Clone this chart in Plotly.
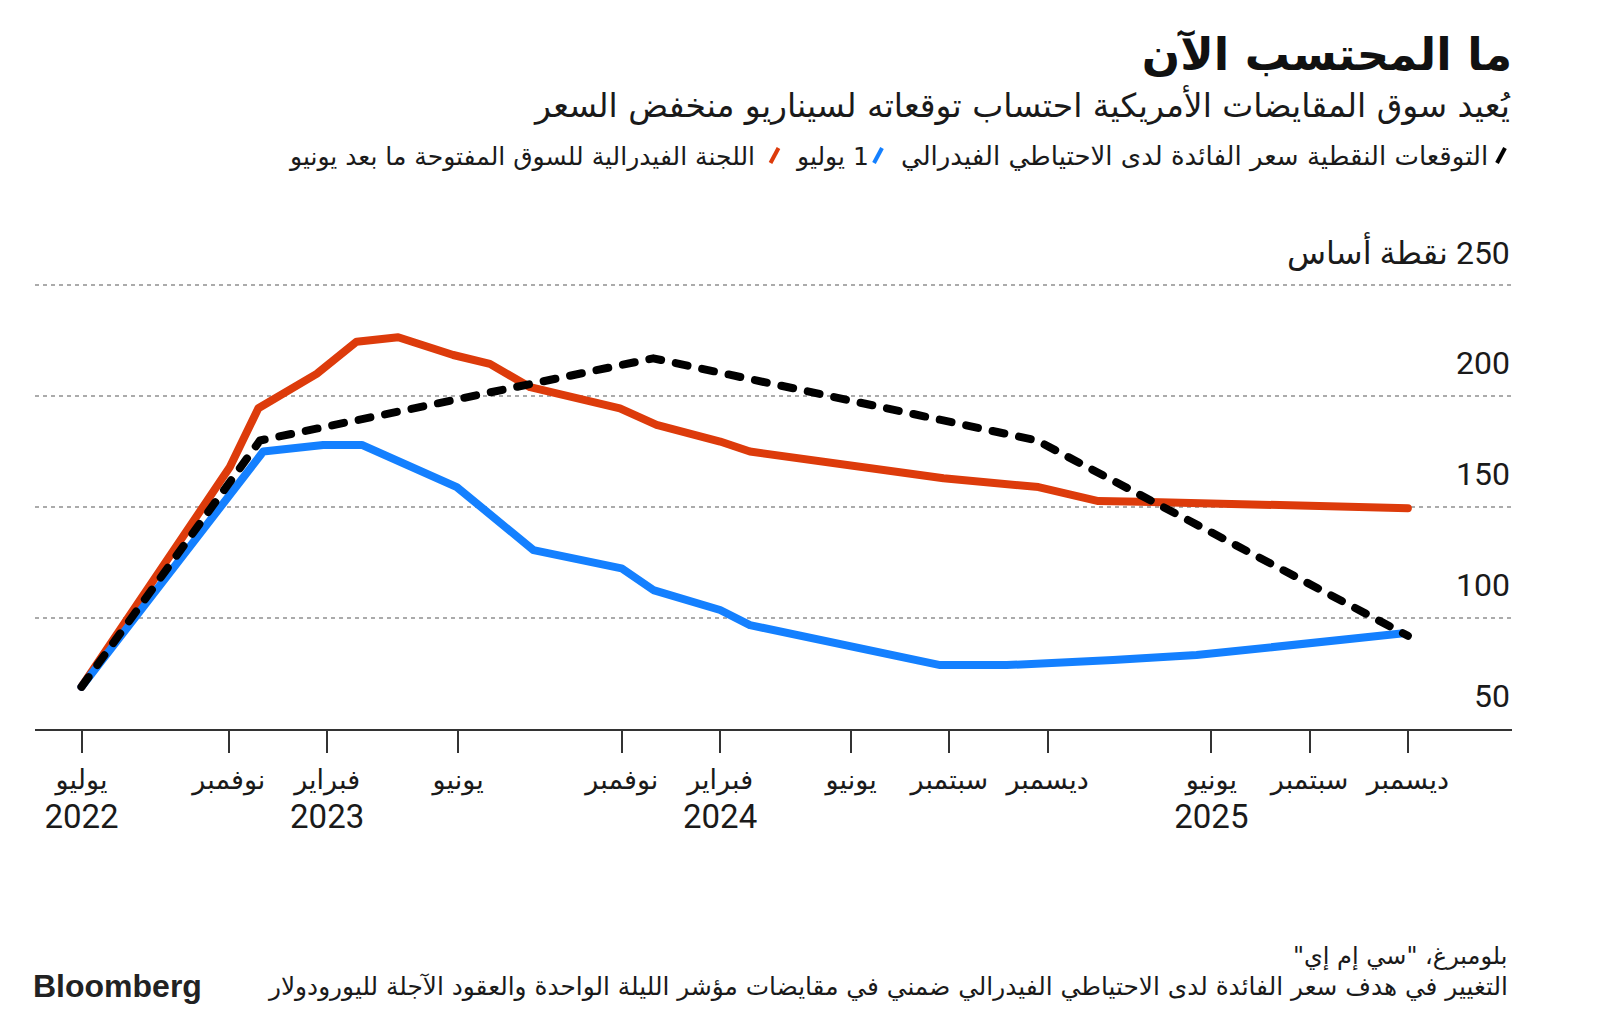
import plotly.graph_objects as go

# ---------------- data (x = months since 1 July 2022) ----------------
red_x = [0, 4.53, 5.40, 7.18, 8.40, 9.67, 11.35, 12.47, 13.70, 16.44, 17.56,
         19.50, 20.41, 26.32, 29.22, 31.05, 32.32, 40.5]
red_y = [69, 168, 194.5, 210, 224.5, 226.5, 218.5, 214.5, 204, 194.5, 187,
         179.5, 175, 163, 159, 152.7, 152.4, 149.5]

blue_x = [0, 5.55, 7.38, 8.56, 11.46, 13.80, 16.49, 17.46, 19.50, 20.41,
          26.22, 28.25, 31.5, 34.05, 40.3]
blue_y = [69, 175, 178, 178, 159, 130.6, 122.4, 112.6, 103.6, 96.8,
          78.8, 78.8, 81.1, 83.3, 93]

dot_x = [0, 5.45, 17.46, 29.17, 40.5]
dot_y = [69, 180, 217, 180, 92]

tick_pos = [0, 4.5, 7.5, 11.5, 16.5, 19.5, 23.5, 26.5, 29.5, 34.5, 37.5, 40.5]
tick_month = ["يوليو", "نوفمبر", "فبراير", "يونيو", "نوفمبر", "فبراير",
              "يونيو", "سبتمبر", "ديسمبر", "يونيو", "سبتمبر", "ديسمبر"]
tick_year = ["2022", "", "2023", "", "", "2024", "", "", "", "2025", "", ""]

y_ticks = [50, 100, 150, 200, 250]
y_unit = "نقطة أساس"

title = "ما المحتسب الآن"
subtitle = "يُعيد سوق المقايضات الأمريكية احتساب توقعاته لسيناريو منخفض السعر"
leg_dot = "التوقعات النقطية سعر الفائدة لدى الاحتياطي الفيدرالي"
leg_blue = "1 يوليو"
leg_red = "اللجنة الفيدرالية للسوق المفتوحة ما بعد يونيو"
source = 'بلومبرغ، "سي إم إي"'
note = "التغيير في هدف سعر الفائدة لدى الاحتياطي الفيدرالي ضمني في مقايضات مؤشر الليلة الواحدة والعقود الآجلة لليورودولار"

# ---------------- styles ----------------
RED = "#dd3b0b"
BLUE = "#1480ff"
BLACK = "#000000"
AR = "DejaVu Sans"
NUM = "Roboto, DejaVu Sans"
TXT = "#1a1a1a"

W, H = 1600, 1018
ML, MR, MT, MB = 35, 88, 274, 289
PW, PH = W - ML - MR, H - MT - MB


def rtl(s):
    return "\u200f" + s + "\u200f"


def xp(px):
    return (px - ML) / PW


def yp(py):
    return (H - MB - py) / PH


fig = go.Figure()
fig.add_trace(go.Scatter(x=red_x, y=red_y, mode="lines", name=leg_red,
                         line=dict(color=RED, width=8), hoverinfo="skip"))
fig.add_trace(go.Scatter(x=blue_x, y=blue_y, mode="lines", name=leg_blue,
                         line=dict(color=BLUE, width=8), hoverinfo="skip"))
fig.add_trace(go.Scatter(x=dot_x, y=dot_y, mode="lines", name=leg_dot,
                         line=dict(color=BLACK, width=8, dash="12px,15px"),
                         hoverinfo="skip"))

tick_text = []
for m, yr in zip(tick_month, tick_year):
    t = "<span style='font-size:27px'>" + rtl(m) + "</span>"
    if yr:
        t += "<br><span style='font-size:33px'>" + yr + "</span>"
    tick_text.append(t)

y_text = [str(v) for v in y_ticks]
y_text[-1] = rtl(str(y_ticks[-1]) + " " + y_unit)

fig.update_layout(
    width=W, height=H,
    margin=dict(l=ML, r=MR, t=MT, b=MB),
    plot_bgcolor="white", paper_bgcolor="white",
    showlegend=False,
    xaxis=dict(range=[-1.42, 43.68], tickvals=tick_pos, ticktext=tick_text,
               ticks="outside", ticklen=22, tickwidth=1.5, tickcolor="#333",
               showline=True, linewidth=2, linecolor="#333",
               showgrid=False, zeroline=False, ticklabelstandoff=0,
               tickfont=dict(family=NUM, size=30, color=TXT)),
    yaxis=dict(range=[50, 255], side="right", tickvals=y_ticks,
               showticklabels=False, ticks="",
               showgrid=True, gridcolor="#ababab", gridwidth=2, griddash="4px,4px",
               zeroline=False, showline=False),
    title=dict(text="<b>" + rtl(title) + "</b>", x=1512 / W, xanchor="right",
               xref="container", y=1 - 54 / H, yref="container", yanchor="middle",
               font=dict(family="DejaVu Sans", size=45, color="#111")),
)

ann = []
def add_text(text, px, py, size, anchor="right", family=AR, color=TXT):
    ann.append(dict(text=text, x=xp(px), y=yp(py), xref="paper", yref="paper",
                    xanchor=anchor, yanchor="middle", showarrow=False,
                    font=dict(family=family, size=size, color=color)))

# y-axis labels, sitting above their gridlines at the right edge
for v, t in zip(y_ticks, y_text):
    ann.append(dict(text=t, x=1, xref="paper", y=v, yref="y", xanchor="right",
                    yanchor="middle", yshift=33, showarrow=False,
                    font=dict(family=NUM, size=32, color=TXT)))

add_text(rtl(subtitle), 1512, 105, 33)
add_text(rtl(leg_dot), 1490, 156, 26)
add_text(rtl(leg_blue), 871, 156, 25)
add_text(rtl(leg_red), 757, 156, 25)
add_text(rtl(source), 1510, 956, 24)
add_text(rtl(note), 1510, 986, 24.8)
add_text("<b>Bloomberg</b>", 31, 986, 32, anchor="left",
         family="Liberation Sans, Arial", color="#222")
fig.update_layout(annotations=ann)

shapes = []
for cx, col in [(1501, BLACK), (878, BLUE), (774.5, RED)]:
    shapes.append(dict(type="line", xref="paper", yref="paper",
                       x0=xp(cx - 4), y0=yp(163), x1=xp(cx + 4), y1=yp(148),
                       line=dict(color=col, width=4)))
fig.update_layout(shapes=shapes)

post = ("document.body.style.margin='0';"
        "document.querySelectorAll('.scatterlayer .js-line').forEach(function(p){"
        "p.style.strokeLinecap='round';p.style.strokeLinejoin='round';});")
fig.write_html("out.html", post_script=post, config={"displayModeBar": False})
